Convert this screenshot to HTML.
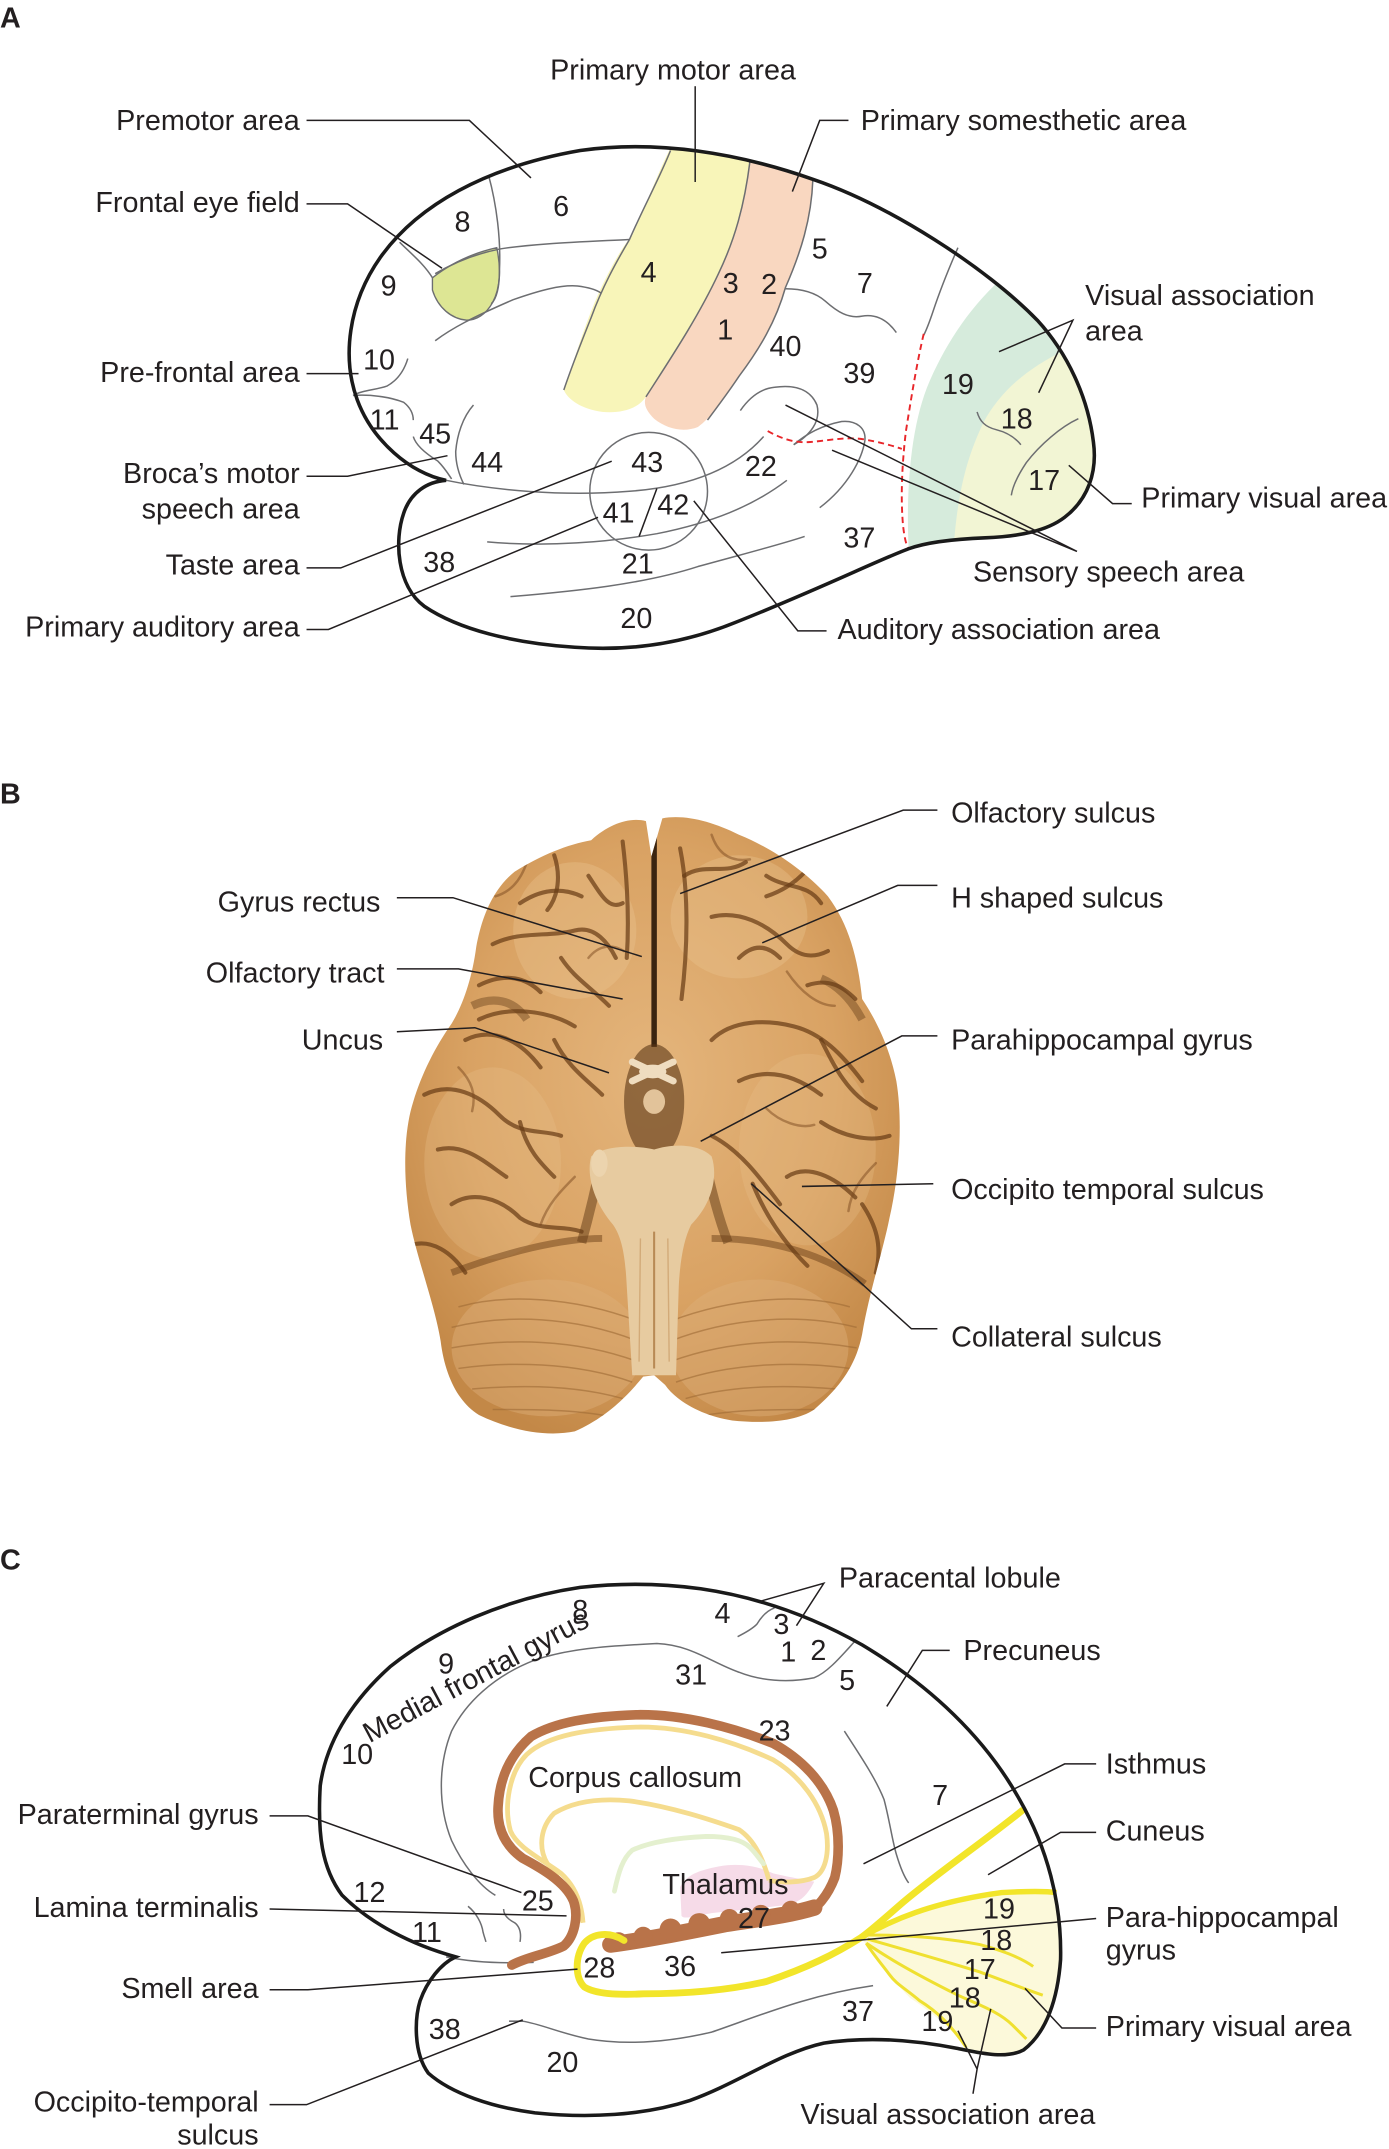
<!DOCTYPE html>
<html><head><meta charset="utf-8">
<style>
html,body{margin:0;padding:0;background:#fff;}
svg{display:block;}
text{font-family:"Liberation Sans",Arial,sans-serif;fill:#231f20;font-size:21px;}
.b{font-weight:bold;}
.e{text-anchor:end;}
.m{text-anchor:middle;}
.ol{fill:none;stroke:#1a1a1a;stroke-width:2.6;}
.g{fill:none;stroke:#6d6e71;stroke-width:1.1;}
.k{fill:none;stroke:#231f20;stroke-width:1.1;}
.rd{fill:none;stroke:#e8262a;stroke-width:1.4;stroke-dasharray:4.5 3;}
.s{fill:none;stroke:#6a3d16;stroke-width:3;stroke-linecap:round;opacity:.72;}
.s2{fill:none;stroke:#7b4a1f;stroke-width:1.8;stroke-linecap:round;opacity:.5;}
.f{fill:none;stroke:#9e6a35;stroke-width:1.1;opacity:.6;}
</style></head>
<body>
<svg width="1389" height="2149" viewBox="0 0 1015 1570.4" preserveAspectRatio="none" xmlns="http://www.w3.org/2000/svg">
<defs>
<clipPath id="ca"><path d="M 326,351 C 300,346 272,322 261,292 C 250,262 254,222 278,188 C 305,150 355,122 424,110 C 480,102 540,112 594,131 C 650,150 720,195 758,234 C 780,258 795,290 799,323 C 802,345 795,365 778,378 C 765,388 745,392 720,393 C 695,394 675,397 664,401 C 640,410 600,430 537,455 C 500,470 460,476 420,473 C 375,470 335,460 310,443 C 290,428 288,395 295,375 C 300,360 312,352 326,351 Z"/></clipPath>
<clipPath id="cb"><path id="bsil" d="M 432,614 C 445,602 460,597 472,600 L 476,626 L 484,598 C 500,595 520,600 540,610 C 565,620 590,638 605,655 C 620,675 627,700 630,730 C 640,745 650,765 655,790 C 660,820 657,860 650,890 C 645,915 635,945 630,975 C 625,1000 612,1015 595,1030 C 580,1040 555,1040 535,1038 C 515,1035 495,1025 486,1012 L 478,1005 L 470,1006 C 460,1018 445,1035 420,1046 C 400,1050 375,1046 350,1034 C 335,1025 325,1005 322,980 C 318,955 305,920 300,895 C 295,865 294,830 302,805 C 308,785 318,765 330,748 C 338,735 345,715 348,692 C 352,670 360,650 376,637 C 395,625 415,617 432,614 Z"/></clipPath>
<clipPath id="cc"><path d="M 333,1430 C 300,1421 270,1405 250,1385 C 235,1365 232,1340 234,1305 C 238,1275 255,1245 285,1218 C 320,1190 370,1168 424,1160 C 460,1156 490,1158 512,1161 C 560,1168 600,1185 630,1202 C 680,1232 720,1270 745,1315 C 765,1350 776,1390 775,1432 C 773,1460 765,1485 748,1498 C 735,1505 715,1500 700,1497 C 670,1491 635,1488 602,1493 C 570,1500 540,1522 504,1535 C 470,1546 430,1548 391,1544 C 360,1540 330,1530 313,1515 C 302,1500 303,1475 307,1462 C 312,1448 322,1435 333,1430 Z"/></clipPath>
<radialGradient id="bg" cx="0.5" cy="0.42" r="0.62">
<stop offset="0" stop-color="#e4b57c"/>
<stop offset="0.6" stop-color="#d9a263"/>
<stop offset="1" stop-color="#c38847"/>
</radialGradient>
</defs>

<!-- ================= PANEL A ================= -->
<text x="0" y="20" class="b">A</text>

<g clip-path="url(#ca)">
<path d="M 664,401 C 662,360 665,310 680,277 C 692,250 710,222 736,200 L 830,200 L 830,430 L 664,430 Z" fill="#d6ebdc"/>
<path d="M 697,398 C 700,360 706,335 719,308 C 730,288 748,270 780,255 L 830,255 L 830,430 L 697,430 Z" fill="#f2f5d4"/>
<path d="M 486,100 L 548,100 L 548,118 C 544,150 537,175 525,200 C 510,232 490,262 472,290 C 465,300 452,302 440,301 C 425,299 415,292 412,285 C 420,262 428,235 438,213 C 448,192 455,180 462,172 C 472,150 480,128 490,108 Z" fill="#f8f5b9"/>
<path d="M 548,100 L 598,100 L 594,131 C 593,160 585,185 574,210 C 567,235 555,255 540,275 C 530,290 520,305 510,312 C 500,316 488,314 478,306 C 472,300 470,295 472,290 C 490,262 510,232 525,200 C 537,175 544,150 548,118 Z" fill="#f9d7c0"/>
</g>
<path d="M 316,203 C 330,192 345,185 363,181 C 366,195 366,210 360,221 C 355,230 348,234 341,234 C 330,233 320,225 316,212 Z" fill="#dde694" stroke="#6d6e71" stroke-width="1"/>

<!-- gray sulci A -->
<path class="g" d="M 357,128 C 363,150 366,175 365,197 C 365,210 363,218 359,222"/>
<path class="g" d="M 318,200 C 335,190 350,185 365,182 C 390,178 420,177 460,175"/>
<path class="g" d="M 318,249 C 330,240 345,232 375,219 C 395,212 410,208 422,209 C 430,210 436,212 439,214"/>
<path class="g" d="M 292,177 C 300,185 310,193 316,203"/>
<path class="g" d="M 298,262 C 295,272 290,278 283,282 C 275,285 265,285 258,289"/>
<path class="g" d="M 258,289 C 270,288 285,290 295,294 C 300,298 302,302 302,307"/>
<path class="g" d="M 302,319 C 304,326 312,332 320,337 C 325,342 328,347 330,350"/>
<path class="g" d="M 346,296 C 338,305 334,318 333,330 C 333,340 336,348 339,354"/>
<path class="g" d="M 326,351 C 360,358 410,363 460,359 C 500,356 535,345 558,319"/>
<path class="g" d="M 356,396 C 400,400 445,396 480,390 C 520,382 550,370 575,351"/>
<path class="g" d="M 373,436 C 420,432 470,427 510,414 C 550,403 570,398 588,392"/>
<circle class="g" cx="474" cy="359" r="43"/>
<path class="g" d="M 541,300 C 548,290 556,284 566,283 C 580,281 592,284 597,296 C 600,308 592,318 580,325"/>
<path class="g" d="M 580,325 C 588,318 600,311 615,308 C 626,307 633,313 632,322 C 630,335 620,355 599,371"/>
<path class="g" d="M 574,211 C 585,211 595,213 603,220 C 612,228 620,233 630,231 C 642,229 650,236 655,243"/>
<path class="g" d="M 700,181 C 693,197 687,212 682,227 C 679,236 677,241 675,245"/>
<path class="g" d="M 788,306 C 775,312 760,325 750,338 C 744,347 740,355 739,362"/>
<path class="g" d="M 714,301 C 716,308 720,312 728,314 C 736,316 742,320 746,325"/>
<path class="g" d="M 490,110 C 482,130 470,152 460,175 C 450,192 440,210 432,232 C 424,252 417,270 412,285"/>
<path class="g" d="M 548,118 C 544,150 537,175 525,200 C 510,232 490,262 472,290"/>
<path class="g" d="M 594,131 C 593,160 585,185 574,210 C 567,235 555,255 540,275 C 530,290 522,300 517,307"/>

<path class="rd" d="M 675,244 C 670,265 666,290 662,315 C 659,340 658,365 660,385 C 661,393 662,398 664,401"/>
<path class="rd" d="M 561,315 C 570,320 580,324 592,323 C 605,322 618,319 631,321 C 642,323 650,325 659,328"/>

<path class="ol" d="M 326,351 C 300,346 272,322 261,292 C 250,262 254,222 278,188 C 305,150 355,122 424,110 C 480,102 540,112 594,131 C 650,150 720,195 758,234 C 780,258 795,290 799,323 C 802,345 795,365 778,378 C 765,388 745,392 720,393 C 695,394 675,397 664,401 C 640,410 600,430 537,455 C 500,470 460,476 420,473 C 375,470 335,460 310,443 C 290,428 288,395 295,375 C 300,360 312,352 326,351 Z"/>

<!-- leaders A -->
<path class="k" d="M 508,63 L 508,133"/>
<path class="k" d="M 224,88 L 343,88 L 388,130"/>
<path class="k" d="M 620,88 L 599,88 L 579,140"/>
<path class="k" d="M 224,149 L 254,149 L 323,196"/>
<path class="k" d="M 224,273 L 262,273"/>
<path class="k" d="M 224,348 L 254,348 L 327,333"/>
<path class="k" d="M 224,415 L 249,415 L 447,337"/>
<path class="k" d="M 224,460 L 240,460 L 437,378"/>
<path class="k" d="M 507,366 L 583,461 L 604,461"/>
<path class="k" d="M 574,296 L 787,403 M 608,329 L 787,403"/>
<path class="k" d="M 730,257 L 784,234 L 759,287"/>
<path class="k" d="M 781,340 L 813,368 L 827,368"/>
<path class="k" d="M 480,357 L 467,392"/>

<!-- labels A -->
<text x="402" y="58">Primary motor area</text>
<text x="219" y="95" class="e">Premotor area</text>
<text x="629" y="95">Primary somesthetic area</text>
<text x="219" y="155" class="e">Frontal eye field</text>
<text x="219" y="279" class="e">Pre-frontal area</text>
<text x="219" y="353" class="e">Broca’s motor</text>
<text x="219" y="379" class="e">speech area</text>
<text x="219" y="420" class="e">Taste area</text>
<text x="219" y="465" class="e">Primary auditory area</text>
<text x="793" y="223">Visual association</text>
<text x="793" y="249">area</text>
<text x="834" y="371">Primary visual area</text>
<text x="711" y="425">Sensory speech area</text>
<text x="612" y="467">Auditory association area</text>

<!-- numbers A -->
<g>
<text x="410" y="158" class="m">6</text>
<text x="338" y="169" class="m">8</text>
<text x="284" y="216" class="m">9</text>
<text x="474" y="206" class="m">4</text>
<text x="534" y="214" class="m">3</text>
<text x="562" y="215" class="m">2</text>
<text x="530" y="248" class="m">1</text>
<text x="599" y="189" class="m">5</text>
<text x="632" y="214" class="m">7</text>
<text x="574" y="260" class="m">40</text>
<text x="628" y="280" class="m">39</text>
<text x="700" y="288" class="m">19</text>
<text x="743" y="313" class="m">18</text>
<text x="763" y="358" class="m">17</text>
<text x="277" y="270" class="m">10</text>
<text x="281" y="314" class="m">11</text>
<text x="318" y="324" class="m">45</text>
<text x="356" y="345" class="m">44</text>
<text x="473" y="345" class="m">43</text>
<text x="452" y="382" class="m">41</text>
<text x="492" y="376" class="m">42</text>
<text x="556" y="348" class="m">22</text>
<text x="321" y="418" class="m">38</text>
<text x="466" y="419" class="m">21</text>
<text x="465" y="459" class="m">20</text>
<text x="628" y="400" class="m">37</text>
</g>

<!-- ================= PANEL B ================= -->
<text x="0" y="587" class="b">B</text>

<use href="#bsil" fill="url(#bg)"/>
<g clip-path="url(#cb)">
<!-- highlights -->
<ellipse cx="420" cy="680" rx="45" ry="50" fill="#ebc592" opacity=".35"/>
<ellipse cx="540" cy="670" rx="50" ry="45" fill="#ebc592" opacity=".35"/>
<ellipse cx="360" cy="850" rx="50" ry="70" fill="#e8c08b" opacity=".3"/>
<ellipse cx="590" cy="840" rx="50" ry="70" fill="#e8c08b" opacity=".3"/>
<ellipse cx="400" cy="985" rx="70" ry="50" fill="#ddb079" opacity=".45"/>
<ellipse cx="555" cy="985" rx="65" ry="50" fill="#ddb079" opacity=".45"/>
<!-- shadows -->
<path d="M 345,735 C 360,728 375,730 385,745" stroke="#5d3714" stroke-width="6" fill="none" opacity=".4"/>
<path d="M 600,715 C 612,720 622,730 630,745" stroke="#5d3714" stroke-width="6" fill="none" opacity=".4"/>
<!-- midline and dark central -->
<path d="M 478,598 L 478,765" stroke="#3a2410" stroke-width="4" fill="none"/>
<ellipse cx="478" cy="805" rx="22" ry="42" fill="#5a3515" opacity=".6"/>
<path d="M 440,845 C 435,870 430,890 425,908" stroke="#5d3714" stroke-width="7" fill="none" opacity=".5"/>
<path d="M 515,848 C 520,870 525,890 532,908" stroke="#5d3714" stroke-width="7" fill="none" opacity=".5"/>
<path d="M 330,930 C 370,915 410,905 440,905" stroke="#6b3f18" stroke-width="5" fill="none" opacity=".5"/>
<path d="M 520,905 C 560,905 600,915 632,938" stroke="#6b3f18" stroke-width="5" fill="none" opacity=".5"/>
<!-- frontal sulci -->
<path class="s" d="M 380,660 C 395,650 410,648 425,655"/>
<path class="s" d="M 405,625 C 410,640 408,655 400,665"/>
<path class="s" d="M 430,640 C 440,655 445,665 455,660"/>
<path class="s" d="M 360,690 C 380,680 400,685 420,680 C 435,676 445,690 450,700"/>
<path class="s" d="M 350,720 C 370,710 385,715 395,725"/>
<path class="s" d="M 410,700 C 420,715 430,720 445,735"/>
<path class="s" d="M 455,615 C 458,640 460,670 458,700"/>
<path class="s" d="M 500,640 C 515,630 530,640 545,630"/>
<path class="s" d="M 560,640 C 575,650 590,645 600,660"/>
<path class="s" d="M 520,670 C 540,665 560,675 575,690 C 585,700 595,700 605,695"/>
<path class="s" d="M 497,620 C 503,650 503,690 498,730"/>
<path class="s" d="M 540,700 C 550,690 560,690 570,700"/>
<path class="s" d="M 590,720 C 605,715 615,720 625,730"/>
<path class="s" d="M 600,620 C 590,640 575,650 560,655"/>
<path class="s2" d="M 385,630 C 380,645 372,652 362,655"/>
<path class="s2" d="M 430,700 C 438,690 448,690 456,695"/>
<path class="s2" d="M 520,610 C 525,625 535,630 548,628"/>
<path class="s2" d="M 575,710 C 585,725 598,735 610,735"/>
<!-- temporal sulci -->
<path class="s" d="M 340,760 C 360,750 380,760 395,780"/>
<path class="s" d="M 310,800 C 330,790 350,800 365,815 C 380,830 395,825 410,830"/>
<path class="s" d="M 320,840 C 340,835 355,850 370,860"/>
<path class="s" d="M 330,880 C 345,870 365,875 380,890 C 395,900 410,895 425,900"/>
<path class="s" d="M 405,760 C 415,780 430,790 440,800"/>
<path class="s" d="M 300,910 C 315,905 330,915 340,930"/>
<path class="s" d="M 380,820 C 385,840 395,850 405,860"/>
<path class="s" d="M 350,745 C 370,735 400,738 420,750"/>
<path class="s" d="M 520,760 C 535,745 560,745 580,750 C 600,755 615,770 630,790"/>
<path class="s" d="M 540,790 C 560,780 580,785 600,800"/>
<path class="s" d="M 600,760 C 610,780 620,800 640,810"/>
<path class="s" d="M 520,830 C 540,840 555,860 570,880"/>
<path class="s" d="M 575,860 C 590,850 610,860 625,875"/>
<path class="s" d="M 600,820 C 615,830 635,835 650,830"/>
<path class="s" d="M 630,880 C 640,895 645,910 640,930"/>
<path class="s" d="M 550,865 C 560,890 575,910 590,925"/>
<path class="s2" d="M 335,780 C 345,790 348,800 345,812"/>
<path class="s2" d="M 420,860 C 410,870 400,880 395,895"/>
<path class="s2" d="M 560,810 C 570,820 585,825 595,822"/>
<path class="s2" d="M 640,850 C 630,860 622,870 620,885"/>
<!-- cerebellum folia -->
<path class="f" d="M 335,955 C 370,945 420,948 465,965"/>
<path class="f" d="M 330,970 C 370,960 420,962 466,980"/>
<path class="f" d="M 330,985 C 370,978 420,978 466,995"/>
<path class="f" d="M 335,1000 C 370,995 420,995 462,1010"/>
<path class="f" d="M 345,1015 C 380,1012 420,1012 455,1022"/>
<path class="f" d="M 360,1030 C 390,1030 420,1030 445,1035"/>
<path class="f" d="M 621,955 C 586,945 536,948 491,965"/>
<path class="f" d="M 626,970 C 586,960 536,962 490,980"/>
<path class="f" d="M 626,985 C 586,978 536,978 490,995"/>
<path class="f" d="M 621,1000 C 586,995 536,995 494,1010"/>
<path class="f" d="M 611,1015 C 576,1012 536,1012 501,1022"/>
<path class="f" d="M 596,1030 C 566,1030 536,1030 511,1035"/>
<!-- brainstem -->
<path d="M 432,845 C 445,835 470,838 478,840 C 490,836 510,835 520,845 C 525,860 520,880 505,895 C 500,905 497,920 496,940 L 494,1005 L 462,1005 L 458,940 C 457,920 455,905 448,895 C 435,880 428,860 432,845 Z" fill="#e7cba0"/>
<path d="M 478,900 L 478,1000" stroke="#b88a55" stroke-width="1.5" fill="none"/>
<path d="M 468,905 L 467,995 M 488,905 L 489,995" stroke="#c99b66" stroke-width="1" fill="none" opacity=".7"/>
<path d="M 462,776 L 492,790 M 492,776 L 462,790" stroke="#efdcbf" stroke-width="5" stroke-linecap="round"/>
<ellipse cx="477" cy="783" rx="10" ry="5" fill="#efdcbf"/>
<ellipse cx="478" cy="805" rx="8" ry="9" fill="#e2c39a"/>
<ellipse cx="438" cy="850" rx="6" ry="10" fill="#ecd4ae"/>
</g>

<!-- leaders B -->
<path class="k" d="M 290,656 L 331,656 L 469,699"/>
<path class="k" d="M 290,708 L 335,708 L 455,730"/>
<path class="k" d="M 290,754 L 347,751 L 445,784"/>
<path class="k" d="M 685,592 L 660,592 L 497,653"/>
<path class="k" d="M 685,647 L 656,647 L 557,689"/>
<path class="k" d="M 685,757 L 659,757 L 512,834"/>
<path class="k" d="M 682,865 L 586,867"/>
<path class="k" d="M 685,971 L 666,971 L 549,865"/>

<!-- labels B -->
<text x="278" y="666" class="e">Gyrus rectus</text>
<text x="281" y="718" class="e">Olfactory tract</text>
<text x="280" y="767" class="e">Uncus</text>
<text x="695" y="601">Olfactory sulcus</text>
<text x="695" y="663">H shaped sulcus</text>
<text x="695" y="767">Parahippocampal gyrus</text>
<text x="695" y="876">Occipito temporal sulcus</text>
<text x="695" y="984">Collateral sulcus</text>

<!-- ================= PANEL C ================= -->
<text x="0" y="1147" class="b">C</text>

<g clip-path="url(#cc)">
<path d="M 629,1416 C 650,1404 680,1390 732,1383 C 750,1382 765,1382 790,1383 L 790,1520 L 710,1520 L 706,1496 C 695,1482 680,1470 665,1460 C 655,1450 645,1437 633,1421 Z" fill="#fcf9da"/>
</g>

<!-- thalamus -->
<path d="M 497,1379 C 502,1370 510,1367 525,1364 C 540,1361 555,1364 565,1369 C 578,1372 590,1374 595,1375 C 590,1385 585,1390 575,1392 C 560,1394 540,1396 520,1398 C 508,1400 500,1403 498,1400 Z" fill="#f6dbe8"/>

<!-- gray sulci C -->
<path class="g" d="M 362,1385 C 350,1378 338,1362 330,1345 C 320,1320 320,1290 330,1265 C 340,1245 360,1225 391,1213 C 415,1205 440,1203 480,1201 C 505,1202 520,1215 540,1222 C 555,1228 575,1230 595,1226 C 605,1222 615,1210 625,1199"/>
<path class="g" d="M 539,1196 C 545,1193 550,1190 553,1187 C 556,1182 560,1177 566,1175"/>
<path class="g" d="M 617,1265 C 630,1285 640,1300 646,1315 C 650,1330 652,1345 655,1355 C 658,1365 661,1372 664,1376"/>
<path class="g" d="M 342,1393 C 348,1398 352,1405 353,1412 C 354,1416 355,1418 355,1419"/>
<path class="g" d="M 368,1395 C 368,1400 372,1403 376,1405 C 380,1408 381,1413 380,1419"/>
<path class="g" d="M 326,1430 C 345,1434 365,1435 390,1434"/>
<path class="g" d="M 372,1477 L 382,1477 C 395,1479 410,1486 430,1490 C 460,1495 490,1492 520,1485 C 555,1473 590,1458 638,1451"/>

<!-- light lines -->
<path d="M 426,1405 C 425,1390 420,1378 410,1369 C 395,1358 378,1350 373,1338 C 368,1320 372,1295 385,1282 C 400,1268 430,1263 468,1262 C 500,1262 535,1272 565,1286 C 585,1298 600,1318 604,1340 C 606,1355 603,1368 595,1372 C 585,1376 570,1376 562,1374" fill="none" stroke="#f5dc8e" stroke-width="3.5"/>
<path d="M 562,1374 C 558,1360 552,1345 540,1337 C 520,1330 490,1320 460,1316 C 440,1314 420,1316 405,1325 C 395,1335 393,1350 400,1362 C 410,1375 422,1390 426,1405" fill="none" stroke="#f5dc8e" stroke-width="3.5"/>
<path d="M 449,1382 C 452,1368 455,1358 462,1352 C 475,1346 495,1343 516,1342 C 530,1342 542,1344 548,1350 C 553,1355 556,1360 558,1362" fill="none" stroke="#e4f0cf" stroke-width="3.5" stroke-linecap="round"/>

<!-- corpus callosum -->
<path d="M 374,1436 C 385,1430 400,1428 412,1422 C 420,1415 423,1400 419,1389 C 413,1375 395,1365 382,1358 C 368,1348 363,1335 364,1320 C 365,1300 372,1283 388,1269 C 405,1259 430,1254 468,1253 C 500,1253 535,1262 565,1274 C 585,1285 602,1302 609,1323 C 614,1340 613,1360 610,1372 C 605,1385 597,1395 589,1398" fill="none" stroke="#b97349" stroke-width="7" stroke-linecap="round"/>
<path d="M 446,1421 C 470,1418 500,1412 530,1406 C 555,1402 575,1400 595,1394" fill="none" stroke="#b97349" stroke-width="12" stroke-linecap="round"/>
<g fill="#b97349">
<circle cx="452" cy="1419" r="7"/>
<circle cx="470" cy="1415" r="7"/>
<circle cx="490" cy="1410" r="8"/>
<circle cx="511" cy="1406" r="8"/>
<circle cx="533" cy="1402" r="7"/>
<circle cx="556" cy="1399" r="7"/>
<circle cx="578" cy="1396" r="7"/>
</g>

<!-- yellow lines -->
<path d="M 747,1323 C 720,1345 690,1365 660,1390 C 645,1403 635,1412 629,1416 C 610,1428 590,1438 560,1448 C 530,1455 500,1457 470,1457 C 450,1458 435,1457 427,1452 C 420,1445 420,1430 427,1420 C 433,1413 445,1411 456,1418" fill="none" stroke="#f2e52a" stroke-width="5" stroke-linecap="round"/>
<path d="M 629,1416 C 650,1404 680,1390 732,1383 C 750,1382 765,1382 772,1383" fill="none" stroke="#f2e52a" stroke-width="4"/>
<g fill="none" stroke="#efe030" stroke-width="2.2">
<path d="M 634,1414 C 660,1414 690,1416 716,1421 C 735,1426 748,1432 755,1437"/>
<path d="M 634,1417 C 655,1423 680,1430 716,1441 C 735,1448 750,1454 762,1458"/>
<path d="M 633,1420 C 645,1428 660,1438 700,1458 C 715,1465 730,1470 740,1480 C 745,1485 748,1488 750,1490"/>
<path d="M 633,1420 C 638,1428 644,1435 650,1443 C 655,1450 660,1452 672,1462 C 685,1470 695,1480 706,1496"/>
</g>

<path class="ol" d="M 333,1430 C 300,1421 270,1405 250,1385 C 235,1365 232,1340 234,1305 C 238,1275 255,1245 285,1218 C 320,1190 370,1168 424,1160 C 460,1156 490,1158 512,1161 C 560,1168 600,1185 630,1202 C 680,1232 720,1270 745,1315 C 765,1350 776,1390 775,1432 C 773,1460 765,1485 748,1498 C 735,1505 715,1500 700,1497 C 670,1491 635,1488 602,1493 C 570,1500 540,1522 504,1535 C 470,1546 430,1548 391,1544 C 360,1540 330,1530 313,1515 C 302,1500 303,1475 307,1462 C 312,1448 322,1435 333,1430 Z"/>

<!-- leaders C -->
<path class="k" d="M 197,1327 L 225,1327 L 381,1383"/>
<path class="k" d="M 197,1395 L 414,1400"/>
<path class="k" d="M 197,1454 L 225,1454 L 422,1439"/>
<path class="k" d="M 197,1538 L 224,1538 L 382,1476"/>
<path class="k" d="M 556,1170 L 602,1157 L 582,1188"/>
<path class="k" d="M 694,1206 L 674,1206 L 648,1247"/>
<path class="k" d="M 801,1289 L 778,1289 L 631,1362"/>
<path class="k" d="M 801,1339 L 775,1339 L 722,1370"/>
<path class="k" d="M 801,1402 L 527,1427"/>
<path class="k" d="M 801,1482 L 776,1482 L 749,1453"/>
<path class="k" d="M 700,1484 L 714,1512 L 724,1468 M 714,1512 L 711,1530"/>

<!-- labels C -->
<text x="613" y="1160">Paracental lobule</text>
<text x="704" y="1213">Precuneus</text>
<text x="808" y="1296">Isthmus</text>
<text x="808" y="1345">Cuneus</text>
<text x="808" y="1408">Para-hippocampal</text>
<text x="808" y="1432">gyrus</text>
<text x="808" y="1488">Primary visual area</text>
<text x="585" y="1552">Visual association area</text>
<text x="189" y="1333" class="e">Paraterminal gyrus</text>
<text x="189" y="1401" class="e">Lamina terminalis</text>
<text x="189" y="1460" class="e">Smell area</text>
<text x="189" y="1543" class="e">Occipito-temporal</text>
<text x="189" y="1567" class="e">sulcus</text>
<text x="386" y="1306">Corpus callosum</text>
<text x="484" y="1384">Thalamus</text>
<text x="270" y="1274" transform="rotate(-28 270 1274)">Medial frontal gyrus</text>

<!-- numbers C -->
<text x="424" y="1184" class="m">8</text>
<text x="326" y="1223" class="m">9</text>
<text x="261" y="1289" class="m">10</text>
<text x="528" y="1186" class="m">4</text>
<text x="571" y="1194" class="m">3</text>
<text x="576" y="1214" class="m">1</text>
<text x="598" y="1213" class="m">2</text>
<text x="505" y="1231" class="m">31</text>
<text x="619" y="1235" class="m">5</text>
<text x="566" y="1272" class="m">23</text>
<text x="687" y="1319" class="m">7</text>
<text x="270" y="1390" class="m">12</text>
<text x="312" y="1419" class="m">11</text>
<text x="393" y="1396" class="m">25</text>
<text x="551" y="1409" class="m">27</text>
<text x="438" y="1445" class="m">28</text>
<text x="497" y="1444" class="m">36</text>
<text x="325" y="1490" class="m">38</text>
<text x="411" y="1514" class="m">20</text>
<text x="627" y="1477" class="m">37</text>
<text x="730" y="1402" class="m">19</text>
<text x="728" y="1425" class="m">18</text>
<text x="716" y="1446" class="m">17</text>
<text x="705" y="1467" class="m">18</text>
<text x="685" y="1484" class="m">19</text>
</svg>
</body></html>
